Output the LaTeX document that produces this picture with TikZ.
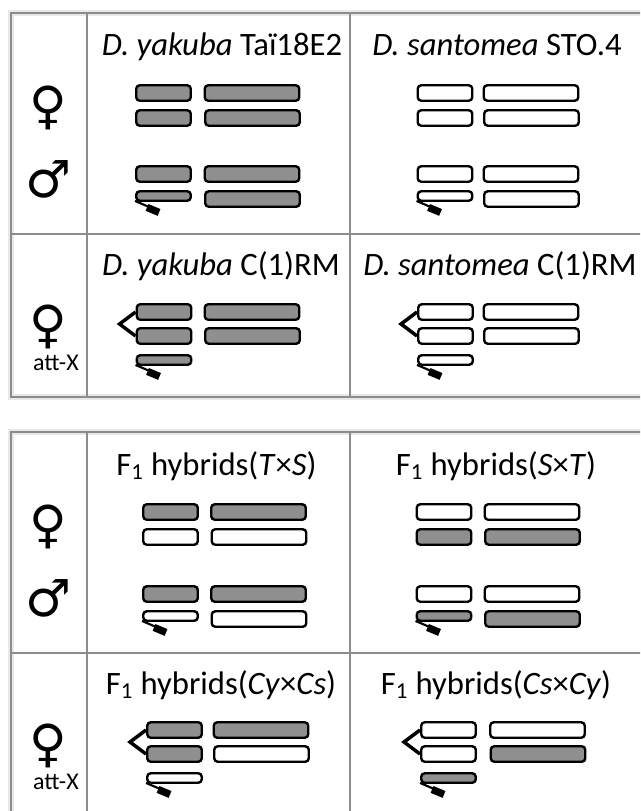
\documentclass[tikz,border=0pt]{standalone}
\usepackage{fontspec}
\setmainfont{Carlito}
\newfontfamily\symfont{DejaVu Sans}
\definecolor{cg}{RGB}{143,143,143}
\definecolor{fr}{RGB}{140,140,140}
\definecolor{sh}{RGB}{232,232,232}
\begin{document}
\begin{tikzpicture}[x=0.75pt,y=-0.75pt,
  frame/.style={draw=fr,line width=1.5pt},
  shadowline/.style={draw=sh,line width=5pt},
  chs/.style={draw=black,line width=1.8pt,rounded corners=2.6pt,inner sep=0pt,minimum height=11.6pt},
  short/.style={minimum width=40.9pt},
  long/.style={minimum width=70.9pt},
  ychr/.style={minimum width=40.9pt,minimum height=7.1pt},
  G/.style={fill=cg},
  W/.style={fill=white},
  ttl/.style={anchor=base,inner sep=0pt,font=\fontsize{24.5}{29}\selectfont},
  attx/.style={anchor=base,inner sep=0pt,font=\fontsize{18}{21}\selectfont},
  sym/.style={inner sep=0pt,font=\symfont\fontsize{38.5}{44}\selectfont},
  hk/.style={line width=1.6pt,line cap=butt},
  hkend/.style={line width=5.5pt,line cap=butt},
  brk/.style={line width=2.6pt,line join=miter}
]
\useasboundingbox (0,0) rectangle (640,811);
\clip (0,0) rectangle (640,811);
\fill[white] (0,0) rectangle (640,811);

% ---------- frames ----------
\draw[shadowline] (11,13) rectangle (660,397);
\draw[shadowline] (11,432) rectangle (660,840);
\draw[frame] (11,13) rectangle (660,397);
\draw[frame] (87,13) -- (87,397);
\draw[frame] (350,13) -- (350,397);
\draw[frame] (11,234) -- (660,234);
\draw[frame] (11,432) rectangle (660,840);
\draw[frame] (87,432) -- (87,840);
\draw[frame] (350,432) -- (350,840);
\draw[frame] (11,653) -- (660,653);

% ---------- top table: titles ----------
\node[ttl] (t1) at (222,55) {\textit{D. yakuba} Taï18E2};
\node[ttl] (t2) at (497,55) {\textit{D. santomea} STO.4};
\node[ttl] (t3) at (221,275) {\textit{D. yakuba} C(1)RM};
\node[ttl] (t4) at (500,275) {\textit{D. santomea} C(1)RM};

% ---------- symbols ----------
\node[sym] (f1) at (48,108) {♀};
\node[sym] (m1) at (48.5,179.5) {♂};
\node[sym] (f2) at (48,327) {♀};
\node[attx] (a1) at (56,370) {att-X};
\node[sym] (f3) at (48,527) {♀};
\node[sym] (m2) at (48.5,598.5) {♂};
\node[sym] (f4) at (48,746) {♀};
\node[attx] (a2) at (56,789) {att-X};

% ---------- top-left: D. yakuba ----------
\node[chs,short,G] (a11) at (163.5,93) {};
\node[chs,long,G]  (a12) at (252,93) {};
\node[chs,short,G] (a21) at (163.5,118) {};
\node[chs,long,G]  (a22) at (252.5,118) {};
\node[chs,short,G] (a31) at (163.5,174) {};
\node[chs,long,G]  (a32) at (252,174) {};
\node[chs,ychr,G]  (ay)  at (163.5,196) {};
\node[chs,long,G]  (a42) at (252.5,199) {};
\draw[hk] ([shift={(0,-1)}]ay.south west) -- ++(14,6);
\draw[hkend] ([shift={(12,5.5)}]ay.south west) -- ++(12,5);

% ---------- top-right: D. santomea ----------
\node[chs,short,W] (b11) at (445,93) {};
\node[chs,long,W]  (b12) at (531,93) {};
\node[chs,short,W] (b21) at (445,118) {};
\node[chs,long,W]  (b22) at (531.5,118) {};
\node[chs,short,W] (b31) at (445,174) {};
\node[chs,long,W]  (b32) at (531,174) {};
\node[chs,ychr,W]  (by)  at (445,196) {};
\node[chs,long,W]  (b42) at (531.5,199) {};
\draw[hk] ([shift={(0,-1)}]by.south west) -- ++(14,6);
\draw[hkend] ([shift={(12,5.5)}]by.south west) -- ++(12,5);

% ---------- top att-X left ----------
\node[chs,short,G] (c11) at (164,312) {};
\node[chs,long,G]  (c12) at (252,312) {};
\node[chs,short,G] (c21) at (164,336) {};
\node[chs,long,G]  (c22) at (252.5,336) {};
\node[chs,ychr,G]  (cy)  at (164,360) {};
\draw[brk] (c11.west) -- ++(-16,12) -- (c21.west);
\draw[hk] ([shift={(0,-1)}]cy.south west) -- ++(14,6);
\draw[hkend] ([shift={(12,5.5)}]cy.south west) -- ++(12,5);

% ---------- top att-X right ----------
\node[chs,short,W] (d11) at (445.5,312) {};
\node[chs,long,W]  (d12) at (531,312) {};
\node[chs,short,W] (d21) at (445.5,336) {};
\node[chs,long,W]  (d22) at (531.5,336) {};
\node[chs,ychr,W]  (dy)  at (445.5,360) {};
\draw[brk] (d11.west) -- ++(-16,12) -- (d21.west);
\draw[hk] ([shift={(0,-1)}]dy.south west) -- ++(14,6);
\draw[hkend] ([shift={(12,5.5)}]dy.south west) -- ++(12,5);

% ---------- bottom table: titles ----------
\node[ttl] (t5) at (216.5,475) {F\textsubscript{1} hybrids(\textit{T}×\textit{S})};
\node[ttl] (t6) at (496,475) {F\textsubscript{1} hybrids(\textit{S}×\textit{T})};
\node[ttl] (t7) at (221,694) {F\textsubscript{1} hybrids(\textit{Cy}×\textit{Cs})};
\node[ttl] (t8) at (496,694) {F\textsubscript{1} hybrids(\textit{Cs}×\textit{Cy})};

% ---------- bottom-left: T x S ----------
\node[chs,short,G] (e11) at (170.5,512) {};
\node[chs,long,G]  (e12) at (258.5,512) {};
\node[chs,short,W] (e21) at (170.5,537) {};
\node[chs,long,W]  (e22) at (259,537) {};
\node[chs,short,G] (e31) at (170.5,594) {};
\node[chs,long,G]  (e32) at (258.5,594) {};
\node[chs,ychr,W]  (ey)  at (170.5,616) {};
\node[chs,long,W]  (e42) at (259,619) {};
\draw[hk] ([shift={(0,-1)}]ey.south west) -- ++(14,6);
\draw[hkend] ([shift={(12,5.5)}]ey.south west) -- ++(12,5);

% ---------- bottom-right: S x T ----------
\node[chs,short,W] (g11) at (444,512) {};
\node[chs,long,W]  (g12) at (532,512) {};
\node[chs,short,G] (g21) at (444,537) {};
\node[chs,long,G]  (g22) at (532.5,537) {};
\node[chs,short,W] (g31) at (444,594) {};
\node[chs,long,W]  (g32) at (532,594) {};
\node[chs,ychr,G]  (gy)  at (444,616) {};
\node[chs,long,G]  (g42) at (532.5,619) {};
\draw[hk] ([shift={(0,-1)}]gy.south west) -- ++(14,6);
\draw[hkend] ([shift={(12,5.5)}]gy.south west) -- ++(12,5);

% ---------- bottom att-X left: Cy x Cs ----------
\node[chs,short,G] (h11) at (174.5,730) {};
\node[chs,long,G]  (h12) at (261,730) {};
\node[chs,short,G] (h21) at (174.5,754) {};
\node[chs,long,W]  (h22) at (261.5,754) {};
\node[chs,ychr,W]  (hy)  at (174.5,778) {};
\draw[brk] (h11.west) -- ++(-16,12) -- (h21.west);
\draw[hk] ([shift={(0,-1)}]hy.south west) -- ++(14,6);
\draw[hkend] ([shift={(12,5.5)}]hy.south west) -- ++(12,5);

% ---------- bottom att-X right: Cs x Cy ----------
\node[chs,short,W] (k11) at (448.5,730) {};
\node[chs,long,W]  (k12) at (537.5,730) {};
\node[chs,short,W] (k21) at (448.5,754) {};
\node[chs,long,G]  (k22) at (538,754) {};
\node[chs,ychr,G]  (ky)  at (448.5,778) {};
\draw[brk] (k11.west) -- ++(-16,12) -- (k21.west);
\draw[hk] ([shift={(0,-1)}]ky.south west) -- ++(14,6);
\draw[hkend] ([shift={(12,5.5)}]ky.south west) -- ++(12,5);
\end{tikzpicture}
\end{document}
